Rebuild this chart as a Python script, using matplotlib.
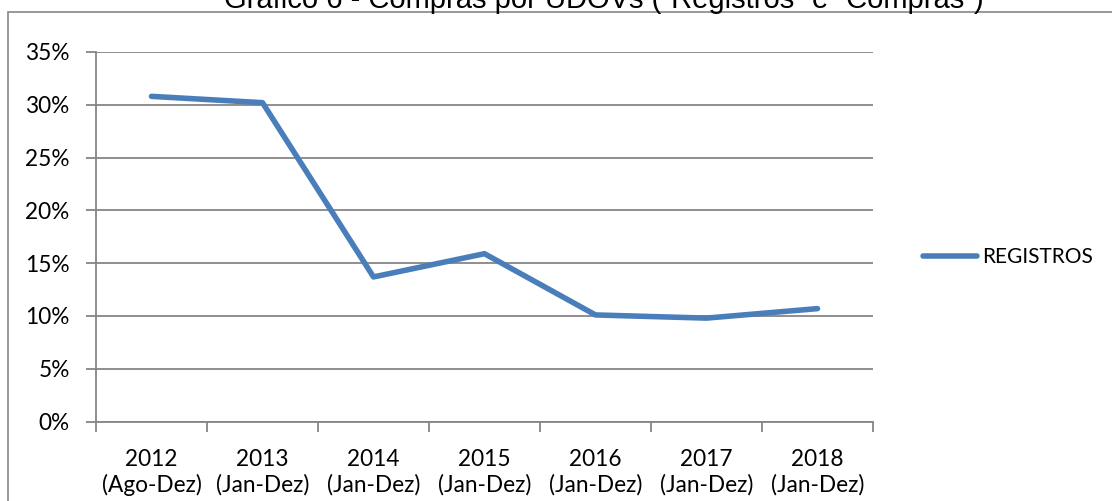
import numpy as np
import matplotlib
matplotlib.use('Agg')
import matplotlib.pyplot as plt
from matplotlib.patches import Rectangle

anos = ['2012', '2013', '2014', '2015', '2016', '2017', '2018']
periodos = ['(Ago-Dez)', '(Jan-Dez)', '(Jan-Dez)', '(Jan-Dez)',
            '(Jan-Dez)', '(Jan-Dez)', '(Jan-Dez)']
registros = [30.8, 30.2, 13.7, 15.9, 10.1, 9.8, 10.7]
yticks = [0, 5, 10, 15, 20, 25, 30, 35]

titulo = 'Gráfico 6 - Compras por UDOVs (\u201cRegistros\u201d e \u201cCompras\u201d)'

cor = '#4a7ebb'
cinza = '#868686'
fonte = 'Lato'
tam = 16.3

W, H = 1112, 501
fig = plt.figure(figsize=[W / 100, H / 100], dpi=100)

# moldura externa do gráfico (sai da imagem à direita e embaixo)
fig.patches.append(Rectangle((8 / W, -0.1), 1.2, (H - 12) / H + 0.1,
                             transform=fig.transFigure, fill=False,
                             edgecolor=cinza, linewidth=1.2))

ax = fig.add_axes([96 / W, (H - 421.6) / H, 777 / W, 369.6 / H])
x = np.arange(len(anos))
ax.plot(x, registros, color=cor, linewidth=4, solid_capstyle='round',
        solid_joinstyle='round', label='REGISTROS', zorder=3)

ax.set_xlim(-0.5, len(anos) - 0.5)
ax.set_ylim(0, 35)
ax.set_yticks(yticks)
ax.set_yticklabels([f'{v}%' for v in yticks], fontsize=tam, family=fonte)
ax.yaxis.grid(True, color=cinza, linewidth=1.3)
ax.set_axisbelow(True)

ax.set_xticks(x)
ax.set_xticklabels([a + '\n' + p for a, p in zip(anos, periodos)],
                   fontsize=tam, family=fonte, linespacing=1.2)
ax.set_xticks(np.arange(-0.5, len(anos)), minor=True)
ax.tick_params(axis='x', which='major', length=0, pad=20)
ax.tick_params(axis='x', which='minor', length=7, width=1.3, color=cinza)
ax.tick_params(axis='y', length=7, width=1.3, color=cinza, pad=12)

for s in ['top', 'right']:
    ax.spines[s].set_visible(False)
for s in ['left', 'bottom']:
    ax.spines[s].set_color(cinza)
    ax.spines[s].set_linewidth(1.3)

leg = ax.legend(loc='center left', bbox_to_anchor=(1.04, 0.445), frameon=False,
                prop={'family': fonte, 'size': 15}, handlelength=2.6,
                handletextpad=0.25)

fig.text(604 / W, (H - 8) / H, titulo, ha='center', va='baseline',
         fontsize=21, family='Liberation Sans')

fig.savefig('out.png', dpi=100)
